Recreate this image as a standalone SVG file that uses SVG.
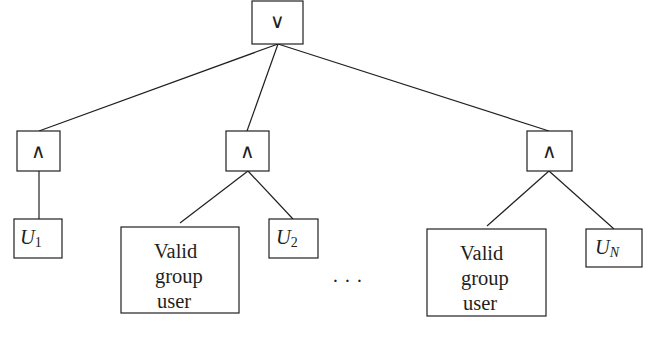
<svg xmlns="http://www.w3.org/2000/svg" width="650" height="341" viewBox="0 0 650 341">
<style>
.box{fill:#fff;stroke:#231f20;stroke-width:1.2}
.ln{stroke:#231f20;stroke-width:1.2;fill:none}
.op{font-family:"DejaVu Sans ExtraLight","DejaVu Sans",sans-serif;font-weight:200;font-size:20px;fill:#231f20;text-anchor:middle}
.t{font-family:"Liberation Serif",serif;font-size:20.5px;fill:#231f20}
.u{font-family:"Liberation Serif",serif;font-size:20.5px;font-style:italic;fill:#231f20}
.s{font-style:normal;font-size:14px}
.si{font-size:14px}
</style>
<rect width="650" height="341" fill="#fff"/>
<g id="connectors">
<line class="ln" x1="278" y1="44" x2="39" y2="131"/>
<line class="ln" x1="278" y1="44" x2="247" y2="131"/>
<line class="ln" x1="278" y1="44" x2="549" y2="131"/>
<line class="ln" x1="39" y1="171" x2="39" y2="219"/>
<line class="ln" x1="248" y1="171" x2="180" y2="223"/>
<line class="ln" x1="248" y1="171" x2="293" y2="219"/>
<line class="ln" x1="549" y1="171" x2="487" y2="226"/>
<line class="ln" x1="549" y1="171" x2="614" y2="229"/>
</g>
<g id="or">
<rect class="box" x="252" y="1" width="51" height="43"/>
<text class="op" x="277.5" y="28">∨</text>
</g>
<g id="and1">
<rect class="box" x="17" y="131" width="43" height="40"/>
<text class="op" x="38.5" y="158">∧</text>
</g>
<g id="and2">
<rect class="box" x="226" y="131" width="43" height="40"/>
<text class="op" x="247.5" y="158">∧</text>
</g>
<g id="and3">
<rect class="box" x="527" y="131" width="45" height="40"/>
<text class="op" x="549.5" y="158">∧</text>
</g>
<g id="u1">
<rect class="box" x="14" y="219" width="48" height="39"/>
<text class="u" x="20" y="244">U<tspan class="s" dy="3">1</tspan></text>
</g>
<g id="valid1">
<rect class="box" x="121" y="227" width="118" height="86"/>
<text class="t" x="154" y="258">Valid</text>
<text class="t" x="155" y="283">group</text>
<text class="t" x="157" y="308">user</text>
</g>
<g id="u2">
<rect class="box" x="269" y="219" width="49" height="39"/>
<text class="u" x="276" y="244">U<tspan class="s" dy="3">2</tspan></text>
</g>
<g id="dots">
<text class="t" x="332" y="288">· · ·</text>
</g>
<g id="valid2">
<rect class="box" x="427" y="229" width="119" height="87"/>
<text class="t" x="460" y="260">Valid</text>
<text class="t" x="461" y="285">group</text>
<text class="t" x="463" y="310">user</text>
</g>
<g id="un">
<rect class="box" x="586" y="229" width="56" height="38"/>
<text class="u" x="595" y="254">U<tspan class="si" dy="3">N</tspan></text>
</g>
</svg>
